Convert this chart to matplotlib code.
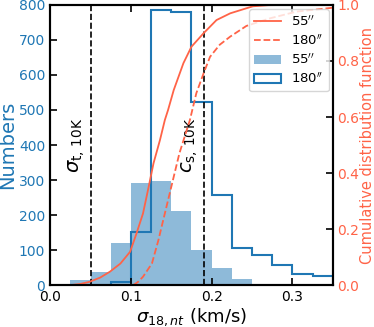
import numpy as np
import matplotlib.pyplot as plt
from matplotlib.patches import Patch

# histogram edges (km/s)
edges_55 = [0.025, 0.05, 0.075, 0.1, 0.125, 0.15, 0.175, 0.2, 0.225, 0.25, 0.275]
counts_55 = [15, 38, 120, 293, 298, 211, 100, 50, 18, 3]
edges_180 = [0.075, 0.1, 0.125, 0.15, 0.175, 0.2, 0.225, 0.25, 0.275, 0.3, 0.325, 0.35]
counts_180 = [8, 152, 786, 781, 523, 257, 105, 86, 57, 33, 27]

# cumulative distribution curves
cdf55_x = [0.025, 0.037, 0.049, 0.062, 0.074, 0.087, 0.099, 0.107, 0.115, 0.122, 0.128, 0.136,
           0.142, 0.146, 0.153, 0.165, 0.175, 0.19, 0.206, 0.223, 0.243, 0.251, 0.27, 0.3, 0.35]
cdf55_y = [0.0, 0.004, 0.012, 0.027, 0.048, 0.077, 0.119, 0.185, 0.256, 0.351, 0.435, 0.518,
           0.589, 0.625, 0.696, 0.792, 0.851, 0.899, 0.946, 0.97, 0.988, 0.995, 0.999, 1.0, 1.0]
cdf180_x = [0.103, 0.109, 0.115, 0.126, 0.134, 0.14, 0.148, 0.16, 0.173, 0.181, 0.19, 0.198,
            0.21, 0.223, 0.243, 0.272, 0.305, 0.35]
cdf180_y = [0.0, 0.012, 0.03, 0.077, 0.16, 0.232, 0.327, 0.47, 0.589, 0.685, 0.756, 0.815,
            0.858, 0.887, 0.925, 0.952, 0.976, 0.99]

sigma_t = 0.05
c_s = 0.19

blue = "#1f77b4"
red = "tomato"

fig = plt.figure(figsize=(3.74, 3.27), dpi=100)
ax = fig.add_axes([0.134, 0.128, 0.756, 0.857])
ax.stairs(counts_55, edges_55, fill=True, color=blue, alpha=0.5)
ax.stairs(counts_180, edges_180, color=blue, lw=1.5)
ax.axvline(sigma_t, color="k", ls="--", lw=1.2)
ax.axvline(c_s, color="k", ls="--", lw=1.2)
ax.text(sigma_t - 0.004, 400, r"$\sigma_{\rm t,\,10K}$", rotation=90, ha="right", va="center", fontsize=14)
ax.text(c_s - 0.004, 400, r"$c_{\rm s,\,10K}$", rotation=90, ha="right", va="center", fontsize=14)
ax.set_xlim(0, 0.35)
ax.set_ylim(0, 800)
ax.set_xticks(np.arange(0, 0.35, 0.1))
ax.set_yticks(np.arange(0, 801, 100))
ax.set_xlabel(r"$\sigma_{18,nt}$ (km/s)", fontsize=13, labelpad=2)
ax.set_ylabel("Numbers", fontsize=14, color=blue, labelpad=1)
ax.tick_params(axis="y", direction="in", labelcolor=blue, color="k", labelsize=10, length=5, width=1.2)
ax.tick_params(axis="x", direction="in", top=True, labelsize=10, length=5, width=1.2)
for s in ax.spines.values():
    s.set_linewidth(1.5)

ax2 = ax.twinx()
ax2.plot(cdf55_x, cdf55_y, color=red, lw=1.3, label="55$^{\\prime\\prime}$")
ax2.plot(cdf180_x, cdf180_y, color=red, lw=1.3, ls="--", label="180$^{\\prime\\prime}$")
ax2.set_ylim(0, 1.0)
ax2.set_yticks(np.arange(0, 1.01, 0.2))
ax2.set_ylabel("Cumulative distribution function", fontsize=10.5, color=red, labelpad=1)
ax2.tick_params(axis="y", direction="in", labelcolor=red, color="k", labelsize=10, length=5, width=1.2, pad=3)
for s in ax2.spines.values():
    s.set_linewidth(1.5)

h1, l1 = ax2.get_legend_handles_labels()
h1 += [Patch(facecolor=blue, alpha=0.5, edgecolor="none"),
       Patch(facecolor="none", edgecolor=blue, lw=1.5)]
l1 += ["55$^{\\prime\\prime}$", "180$^{\\prime\\prime}$"]
ax2.legend(h1, l1, loc="upper right", fontsize=9.5, borderaxespad=0.3, handlelength=2.0,
           labelspacing=0.35)

plt.savefig("out.png", dpi=100)
